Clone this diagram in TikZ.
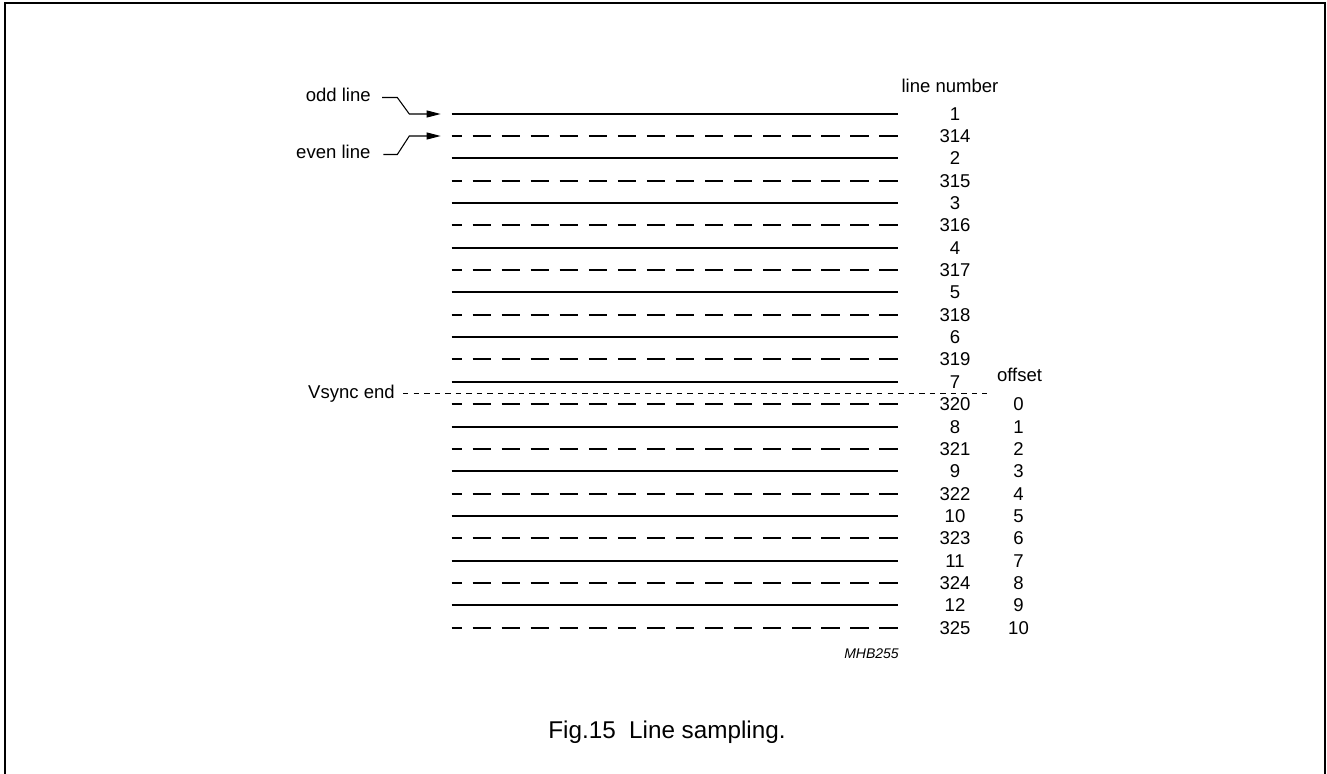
\documentclass[tikz,border=0pt]{standalone}
\usepackage{fontspec}
\setmainfont{Liberation Sans}
\usetikzlibrary{arrows.meta}
\begin{document}
\begin{tikzpicture}[x=0.75pt,y=-0.75pt,
  lbl/.style={font=\fontsize{13.9}{16}\selectfont, inner sep=0pt},
  solidline/.style={line width=1.4pt},
  dashline/.style={line width=1.4pt, dash pattern=on 13.7pt off 8.1pt, dash phase=6.2pt},
  conn/.style={line width=0.8pt},
  tip/.style={-{Triangle[length=10.5pt,width=5.2pt]}},
  vsyncline/.style={line width=0.8pt, dash pattern=on 4.1pt off 3.8pt}]
\useasboundingbox (0,0) rectangle (1327,774);
\draw[line width=1.5pt] (5,790) -- (5,3) -- (1325,3) -- (1325,790);

\foreach \num [count=\i from 0] in {1,314,2,315,3,316,4,317,5,318,6,319,7,320,8,321,9,322,10,323,11,324,12,325} {
  \pgfmathsetmacro{\yy}{round(113.5+22.36*\i)}
  \coordinate (a\i) at (451.7,\yy);
  \coordinate (b\i) at (898.3,\yy);
  \ifodd\i \draw[dashline] (a\i) -- (b\i); \else \draw[solidline] (a\i) -- (b\i); \fi
  \node[lbl,anchor=base] (n\i) at (955,\yy+6.5) {\num};
}
\foreach \k in {0,...,10} {
  \pgfmathsetmacro{\yy}{round(113.5+22.36*(\k+13))}
  \node[lbl,anchor=base] (o\k) at (1018.5,\yy+6.5) {\k};
}

\node[lbl,anchor=base] (lnum) at (950,92.7) {line number};
\node[lbl,anchor=base] (offs) at (1019.5,381.7) {offset};

\node[lbl,anchor=base east] (odd) at (371,101.7) {odd line};
\node[lbl,anchor=base east] (even) at (370.7,158.3) {even line};
\draw[conn,tip] (odd.base east) ++(11,-4.2) -- ++(15.3,0) -- ([xshift=-31.8pt]a0) -- ([xshift=-8.25pt]a0);
\draw[conn,tip] (even.base east) ++(12.6,-3.8) -- ++(14,0) -- ([xshift=-31.8pt]a1) -- ([xshift=-8.25pt]a1);

\node[lbl,anchor=base east] (vs) at (395,398.3) {Vsync end};
\coordinate (vsL) at (403,393.5);
\coordinate (vsR) at (987,393.5);
\draw[vsyncline] (vsL) -- (vsR);

\node[font=\fontsize{10.5}{12}\selectfont\itshape, inner sep=0pt, anchor=base east] (mhb) at (899,658.3) {MHB255};
\node[font=\fontsize{18.2}{21}\selectfont, inner sep=0pt, anchor=base] (cap) at (667,738) {Fig.15\hspace{0.55em}Line sampling.};
\end{tikzpicture}
\end{document}
